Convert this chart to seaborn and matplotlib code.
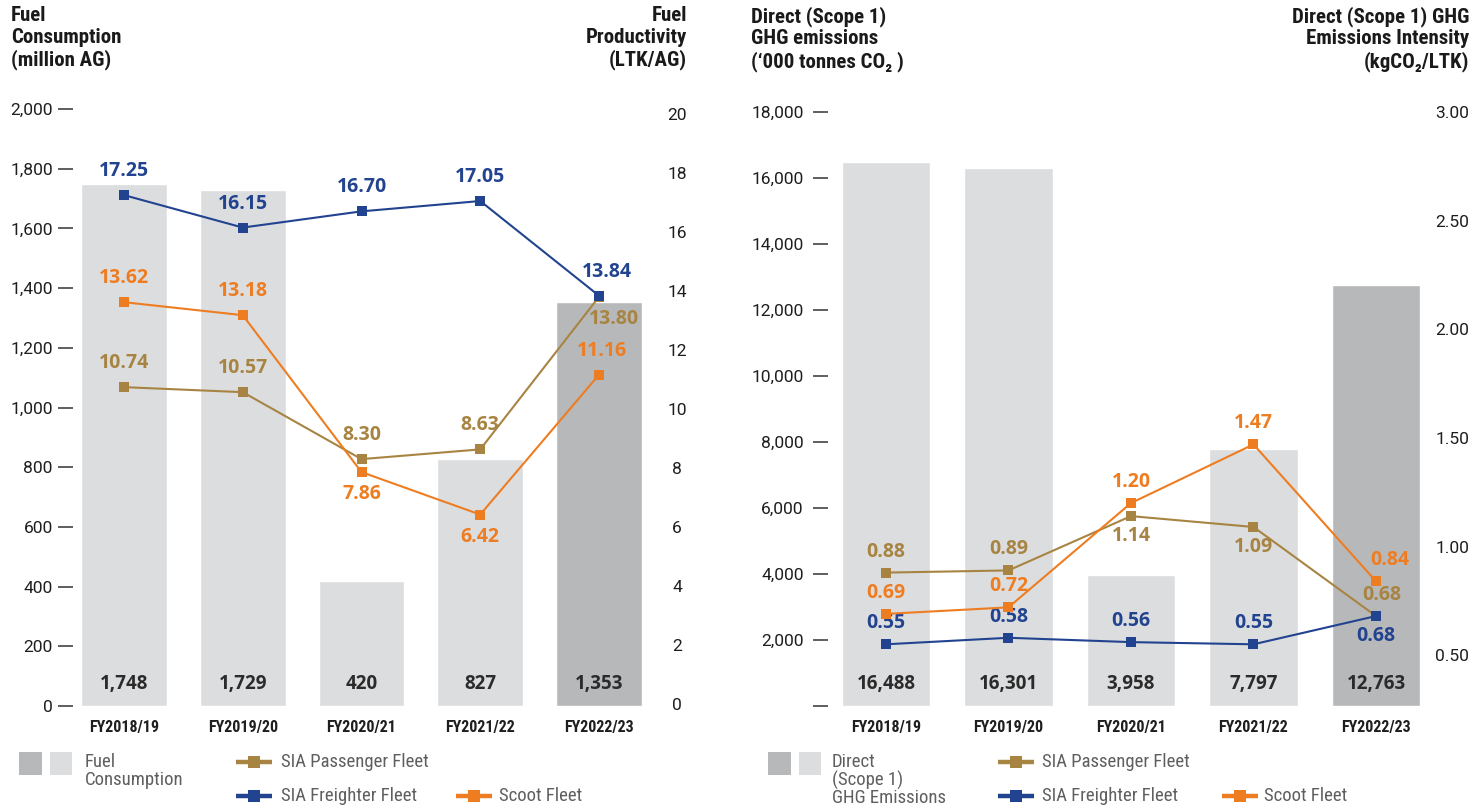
import numpy as np
import pandas as pd
import seaborn as sns
import matplotlib
matplotlib.use("Agg")
import matplotlib.pyplot as plt
from matplotlib import font_manager
from matplotlib.lines import Line2D
from matplotlib.patches import Rectangle
import matplotlib.transforms as mtrans

# ---------------- data ----------------
years = ["FY2018/19", "FY2019/20", "FY2020/21", "FY2021/22", "FY2022/23"]
fuel_consumption = [1748, 1729, 420, 827, 1353]
prod_passenger = [10.74, 10.57, 8.30, 8.63, 13.80]
prod_freighter = [17.25, 16.15, 16.70, 17.05, 13.84]
prod_scoot = [13.62, 13.18, 7.86, 6.42, 11.16]

ghg_emissions = [16488, 16301, 3958, 7797, 12763]
int_passenger = [0.88, 0.89, 1.14, 1.09, 0.68]
int_freighter = [0.55, 0.58, 0.56, 0.55, 0.68]
int_scoot = [0.69, 0.72, 1.20, 1.47, 0.84]

fuel_ticks = [0, 200, 400, 600, 800, 1000, 1200, 1400, 1600, 1800, 2000]
prod_ticks = [0, 2, 4, 6, 8, 10, 12, 14, 16, 18, 20]
ghg_ticks = [0, 2000, 4000, 6000, 8000, 10000, 12000, 14000, 16000, 18000]
int_ticks = [0.50, 1.00, 1.50, 2.00, 2.50, 3.00]

# label placement: 'a' above, 'b' below
pl_prod_passenger = ["a", "a", "a", "a", "b"]
pl_prod_freighter = ["a", "a", "a", "a", "a"]
pl_prod_scoot = ["a", "a", "b", "b", "a"]
pl_int_passenger = ["a", "a", "b", "b", "a"]
pl_int_freighter = ["a", "a", "a", "a", "b"]
pl_int_scoot = ["a", "a", "a", "a", "a"]

# ---------------- style ----------------
C_PASS = "#a88442"
C_FRT = "#22438f"
C_SCOOT = "#ee7d22"
C_LIGHT = "#dcdddf"
C_DARK = "#b7b8ba"
C_TEXT = "#1e1e1e"

sns.set_theme(style="white")
plt.rcParams["font.family"] = ["Roboto", "DejaVu Sans"]

names = {f.name for f in font_manager.fontManager.ttflist}


def pick_condensed():
    for n in ["Roboto Condensed", "Open Sans Condensed", "Liberation Sans Narrow", "Arial Narrow"]:
        if n in names:
            return dict(family=[n, "DejaVu Sans"])
    for f in font_manager.fontManager.ttflist:
        if f.name == "DejaVu Sans" and "condensed" in str(f.stretch):
            return dict(family=["DejaVu Sans"], fontstretch="condensed")
    return dict(family=["Roboto", "DejaVu Sans"])


COND = pick_condensed()
VALFONT = dict(family=["Open Sans", "DejaVu Sans"], fontweight="bold")
TICKFONT = dict(family=["Roboto", "DejaVu Sans"], fontweight="normal")

W, H = 1476, 808
fig = plt.figure(figsize=(W / 100, H / 100), dpi=100)


def rect(x0, x1, ytop, ybot):
    return [x0 / W, 1 - ybot / H, (x1 - x0) / W, (ybot - ytop) / H]


def fx(x):
    return x / W


def fy(y):
    return 1 - y / H


def panel(ax, bars, bar_ticks, bar_ticklabels, ylim_bar, xlim,
          series, rticks, rticklabels, ylim_r, rpad, rcenter, lpad,
          above_off, below_off, xoffs, fmt):
    df = pd.DataFrame({"year": years, "val": bars})
    sns.barplot(data=df, x="year", y="val", hue="year",
                palette=[C_LIGHT] * 4 + [C_DARK], legend=False,
                width=0.72, saturation=1, ax=ax, zorder=1)
    ax.set_ylim(*ylim_bar)
    ax.set_yticks(bar_ticks)
    ax.set_yticklabels(bar_ticklabels, fontsize=12.5, color=C_TEXT, **TICKFONT)
    ax.tick_params(axis="y", length=11, width=1.1, color="#333333", pad=lpad, left=True)
    ax.set_xticks(range(len(years)))
    ax.set_xticklabels(years, fontsize=11.5, fontweight="bold", color=C_TEXT, **COND)
    ax.tick_params(axis="x", length=0, pad=10)
    ax.set_xlabel("")
    ax.set_ylabel("")
    for s in ax.spines.values():
        s.set_visible(False)
    trans = mtrans.blended_transform_factory(ax.transData, ax.transAxes)
    for i, v in enumerate(bars):
        ax.text(i, 0.037, f"{v:,}", transform=trans, ha="center", va="center",
                fontsize=13.5, color="#2b2b2b", **VALFONT)

    axr = ax.twinx()
    for vals, color, place in series:
        sns.lineplot(x=np.arange(len(years)), y=vals, ax=axr, color=color,
                     marker="s", markersize=7, markeredgewidth=0,
                     linewidth=1.5, zorder=3)
        for i, v in enumerate(vals):
            dy = above_off if place[i] == "a" else below_off
            dx = xoffs.get((color, i), 0)
            axr.annotate(fmt(v), xy=(i, v), xytext=(dx, dy),
                         textcoords="offset pixels", ha="center", va="center",
                         fontsize=14, color=color, **VALFONT)
    axr.set_ylim(*ylim_r)
    axr.set_yticks(rticks)
    axr.set_yticklabels(rticklabels, fontsize=12.5, color=C_TEXT, **TICKFONT)
    axr.tick_params(axis="y", length=0, pad=rpad)
    if rcenter:
        for lb in axr.get_yticklabels():
            lb.set_ha("center")
    axr.set_ylabel("")
    axr.set_xlabel("")
    for s in axr.spines.values():
        s.set_visible(False)
    ax.set_xlim(*xlim)
    axr.set_xlim(*xlim)
    return axr


# ---------------- left panel ----------------
ax1 = fig.add_axes(rect(73, 650, 109, 706))
panel(ax1, fuel_consumption, fuel_ticks, [f"{t:,}" for t in fuel_ticks],
      (0, 2000), (-0.43, 4.43),
      [(prod_passenger, C_PASS, pl_prod_passenger),
       (prod_freighter, C_FRT, pl_prod_freighter),
       (prod_scoot, C_SCOOT, pl_prod_scoot)],
      prod_ticks, [str(t) for t in prod_ticks], (-0.07, 20.17),
      rpad=19.5, rcenter=True, lpad=3.6,
      above_off=24, below_off=-22,
      xoffs={(C_FRT, 4): 8, (C_PASS, 4): 15, (C_SCOOT, 4): 3},
      fmt=lambda v: f"{v:.2f}")

# ---------------- right panel ----------------
ax2 = fig.add_axes(rect(828, 1425, 112, 706))
panel(ax2, ghg_emissions, ghg_ticks, [""] + [f"{t:,}" for t in ghg_ticks[1:]],
      (0, 18000), (-0.473, 4.40),
      [(int_passenger, C_PASS, pl_int_passenger),
       (int_freighter, C_FRT, pl_int_freighter),
       (int_scoot, C_SCOOT, pl_int_scoot)],
      int_ticks, [f"{t:.2f}" for t in int_ticks], (0.266, 2.991),
      rpad=7.5, rcenter=False, lpad=6.5,
      above_off=21, below_off=-20,
      xoffs={(C_PASS, 4): 6, (C_SCOOT, 4): 14},
      fmt=lambda v: f"{v:.2f}")

# ---------------- titles ----------------
TT = dict(fontsize=15, fontweight="bold", color="#1a1a1a", va="top", linespacing=1.18, **COND)
fig.text(fx(11), fy(6), "Fuel\nConsumption\n(million AG)", ha="left", **TT)
fig.text(fx(687), fy(6), "Fuel\nProductivity\n(LTK/AG)", ha="right", multialignment="right", **TT)
fig.text(fx(751), fy(6), "Direct (Scope 1)\nGHG emissions\n(\u2018000 tonnes CO\u2082 )", ha="left", **TT)
fig.text(fx(1469), fy(6), "Direct (Scope 1) GHG\nEmissions Intensity\n(kgCO\u2082/LTK)", ha="right",
         multialignment="right", **TT)

# ---------------- legends ----------------
LT = dict(fontsize=13.5, color="#5f5f5f", va="center", **COND)


def sq(x0, x1, y0, y1, c):
    fig.add_artist(Rectangle((fx(x0), fy(y1)), fx(x1) - fx(x0), fy(y0) - fy(y1),
                             transform=fig.transFigure, facecolor=c, edgecolor="none"))


def handle(x0, x1, y, c):
    fig.add_artist(Line2D([fx(x0), fx(x1)], [fy(y), fy(y)], transform=fig.transFigure,
                          color=c, lw=3.2, solid_capstyle="butt"))
    fig.add_artist(Line2D([fx((x0 + x1) / 2)], [fy(y)], transform=fig.transFigure,
                          color=c, marker="s", markersize=9, markeredgewidth=0, linestyle="none"))


# left legend
sq(19, 42, 752, 775, C_DARK)
sq(50, 72, 752, 775, C_LIGHT)
fig.text(fx(85), fy(771), "Fuel\nConsumption", ha="left", linespacing=0.95, **LT)
handle(236, 272, 762, C_PASS)
fig.text(fx(281), fy(762), "SIA Passenger Fleet", ha="left", **LT)
handle(236, 272, 796, C_FRT)
fig.text(fx(281), fy(796), "SIA Freighter Fleet", ha="left", **LT)
handle(456, 492, 796, C_SCOOT)
fig.text(fx(499), fy(796), "Scoot Fleet", ha="left", **LT)

# right legend
sq(768, 791, 752, 775, C_DARK)
sq(799, 821, 752, 775, C_LIGHT)
fig.text(fx(832), fy(780), "Direct\n(Scope 1)\nGHG Emissions", ha="left", linespacing=0.95, **LT)
handle(998, 1034, 762, C_PASS)
fig.text(fx(1042), fy(762), "SIA Passenger Fleet", ha="left", **LT)
handle(998, 1034, 796, C_FRT)
fig.text(fx(1042), fy(796), "SIA Freighter Fleet", ha="left", **LT)
handle(1222, 1258, 796, C_SCOOT)
fig.text(fx(1264), fy(796), "Scoot Fleet", ha="left", **LT)

fig.savefig("out.png", dpi=100, facecolor="white")
